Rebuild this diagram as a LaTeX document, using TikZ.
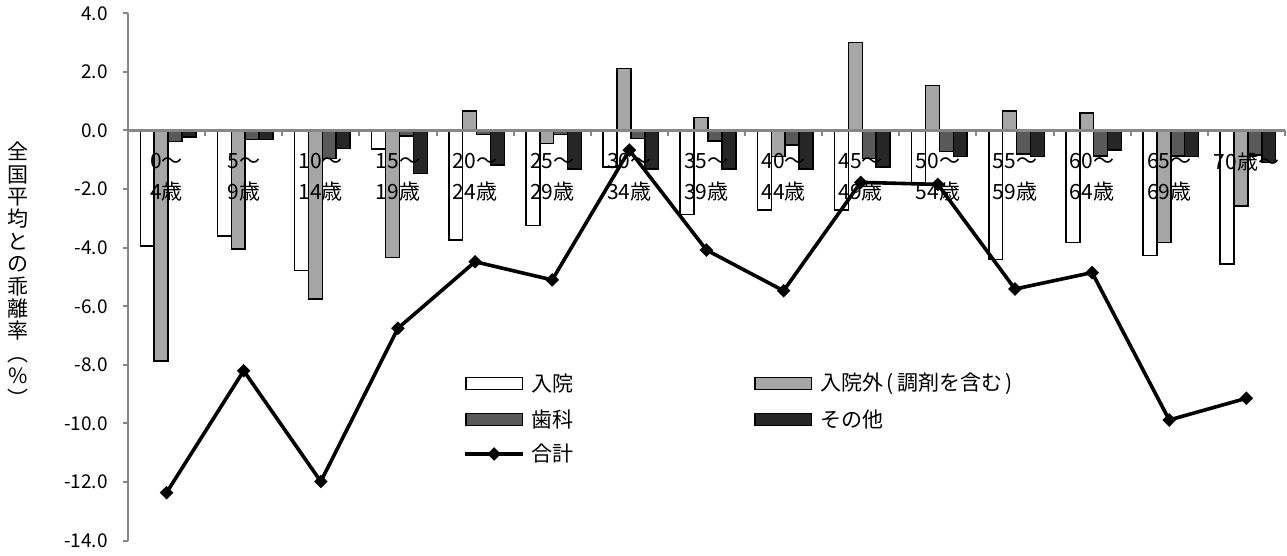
\documentclass[tikz,border=0pt]{standalone}
\usepackage{fontspec}
\setmainfont{Noto Sans CJK JP}
\usetikzlibrary{positioning}
\definecolor{axisgray}{HTML}{878787}
\definecolor{gaibar}{HTML}{A6A6A6}
\definecolor{shikabar}{HTML}{595959}
\definecolor{sonotabar}{HTML}{262626}

\begin{document}
\begin{tikzpicture}[x=38.565pt, y=14.65pt,
    every node/.style={font=\fontsize{10.5}{12}\selectfont, inner sep=0pt},
    barbox/.style={draw=black, line width=0.75pt},
    axisline/.style={draw=axisgray, line width=1pt},
    ticklabel/.style={anchor=east, font=\fontsize{9.5}{11}\selectfont},
    catlabel/.style={align=center, font=\fontsize{10.5}{15.5}\selectfont},
    totline/.style={line width=1.8pt, line join=miter},
    legswatch/.style={barbox, minimum width=28.3pt, minimum height=6pt},
    totdiamond/.pic={\fill (0,3.4pt)--(3.4pt,0)--(0,-3.4pt)--(-3.4pt,0)--cycle;}]
\useasboundingbox (-1.6595,4.454) rectangle (15.027,-14.522);

% bars: 入院, 入院外, 歯科, その他
\def\bw{0.18}
\foreach \v [count=\i from 0] in {-3.95,-3.6,-4.78,-0.63,-3.74,-3.24,-1.24,-2.86,-2.72,-2.72,-1.78,-4.4,-3.83,-4.27,-4.56}
    \draw[barbox, fill=white] (\i+0.52-2*\bw,0) rectangle (\i+0.52-\bw,\v);
\foreach \v [count=\i from 0] in {-7.86,-4.04,-5.75,-4.34,0.67,-0.44,2.12,0.44,-0.88,3.01,1.53,0.67,0.59,-3.83,-2.58}
    \draw[barbox, fill=gaibar] (\i+0.52-\bw,0) rectangle (\i+0.52,\v);
\foreach \v [count=\i from 0] in {-0.38,-0.3,-0.95,-0.19,-0.13,-0.13,-0.27,-0.36,-0.5,-0.95,-0.72,-0.8,-0.87,-0.87,-0.84}
    \draw[barbox, fill=shikabar] (\i+0.52,0) rectangle (\i+0.52+\bw,\v);
\foreach \v [count=\i from 0] in {-0.23,-0.3,-0.61,-1.46,-1.18,-1.32,-1.32,-1.32,-1.32,-1.24,-0.89,-0.89,-0.67,-0.89,-1.1}
    \draw[barbox, fill=sonotabar] (\i+0.52+\bw,0) rectangle (\i+0.52+2*\bw,\v);

% axes
\draw[axisline] (0,4)--(0,-14);
\foreach \y in {4,2,...,-14}
    \draw[axisline] (-0.065,\y)--(0,\y);
\foreach \y/\t in {4/4.0,2/2.0,0/0.0,-2/-2.0,-4/-4.0,-6/-6.0,-8/-8.0,-10/-10.0,-12/-12.0,-14/-14.0}
    \node[ticklabel] (tick\y) at (-0.259,\y) {\t};
\draw[axisline, line width=1.3pt] (0,0)--(15,0);
\foreach \x in {1,...,15}
    \draw[axisline] (\x,0)--(\x,-0.2);

% categories
\foreach \a [count=\i from 0, evaluate=\a as \b using int(\a+4)] in {0,5,...,65}
    \node[catlabel] (cat\i) at (\i+0.5,-1.6) {{\a}～\\{\b}歳};
\node[catlabel] (cat14) at (14.5,-1.075) {70歳～};

% y title
\node[align=center, font=\fontsize{10.5}{11.2}\selectfont] (ytitle) at (-1.426,-4.9)
    {全\\国\\平\\均\\と\\の\\乖\\離\\率\\︵\\\%\\︶};

% 合計
\foreach \v [count=\i from 0] in {-12.36,-8.2,-11.98,-6.75,-4.48,-5.1,-0.67,-4.08,-5.47,-1.77,-1.84,-5.41,-4.85,-9.88,-9.14}
    \coordinate (tot\i) at (\i+0.5,\v);
\draw[totline] (tot0) \foreach \i in {1,...,14}{ -- (tot\i)};
\foreach \i in {0,...,14}
    \path (tot\i) pic{totdiamond};

% legend
\node[anchor=west] (lgnyuin) at (5.22,-8.628) {入院};
\node[anchor=west] (lgshika) at (5.22,-9.87) {歯科};
\node[anchor=west] (lgtotal) at (5.22,-11.041) {合計};
\node[anchor=west] (lggai) at (8.97,-8.628) {入院外\,(\,調剤を含む\,)};
\node[anchor=west] (lgsonota) at (8.97,-9.87) {その他};
\node[legswatch, fill=white, left=3.7pt of lgnyuin] (swnyuin) {};
\node[legswatch, fill=shikabar, left=3.7pt of lgshika] (swshika) {};
\node[legswatch, fill=gaibar, left=3.7pt of lggai] (swgai) {};
\node[legswatch, fill=sonotabar, left=3.7pt of lgsonota] (swsonota) {};
\node[legswatch, draw=none, left=3.7pt of lgtotal] (swtotal) {};
\draw[totline] (swtotal.west) -- (swtotal.east);
\path (swtotal) pic{totdiamond};
\end{tikzpicture}
\end{document}
